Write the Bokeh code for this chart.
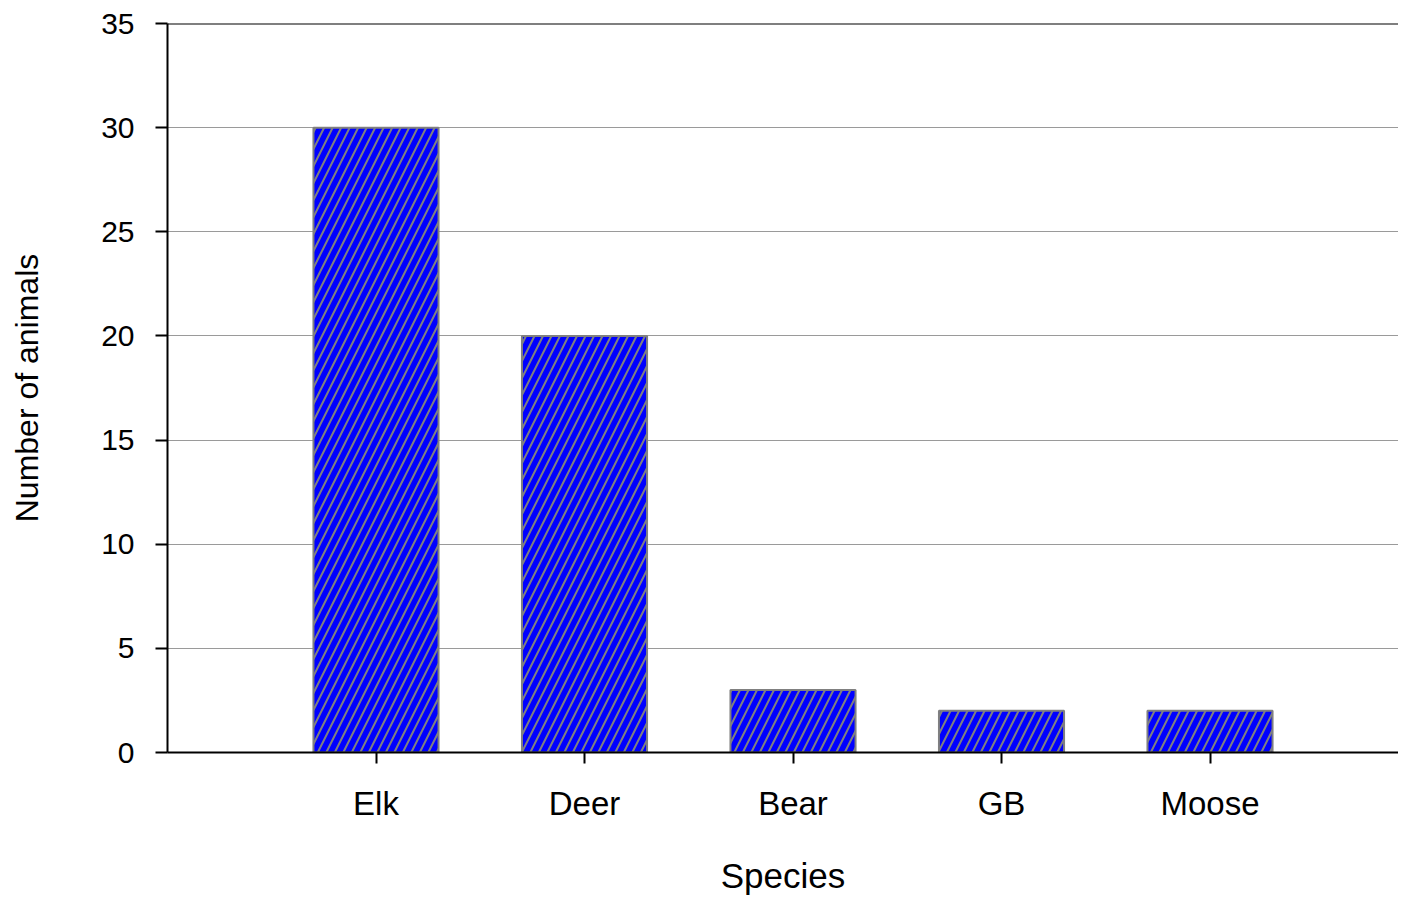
from bokeh.plotting import figure
from bokeh.models import Range1d, FixedTicker, Span, ColumnDataSource
from bokeh.embed import file_html
from bokeh.resources import INLINE

species = ["Elk", "Deer", "Bear", "GB", "Moose"]
counts = [30, 20, 3, 2, 2]
y_ticks = [0, 5, 10, 15, 20, 25, 30, 35]

xpos = [i + 1 for i in range(len(species))]
src = ColumnDataSource(dict(x=xpos, top=counts, name=species))

FONT = "Liberation Sans"

p = figure(width=1398, height=899, output_backend="svg", toolbar_location=None,
           x_range=Range1d(0, 5.904), y_range=Range1d(0, 35),
           min_border_left=167, min_border_right=0, min_border_top=23,
           min_border_bottom=147)
p.outline_line_color = None
p.background_fill_color = "white"
p.border_fill_color = "white"

p.vbar(x="x", top="top", bottom=0, width=0.6, source=src,
       fill_color="#0000FF", line_color="#808080", line_width=2,
       hatch_pattern="/", hatch_color="#808080", hatch_scale=17, hatch_weight=2)

top_line = Span(location=35, dimension="width", line_color="black", line_width=2)
p.add_layout(top_line)

# X axis
p.xaxis.ticker = FixedTicker(ticks=xpos)
p.xaxis.major_label_overrides = {x: n for x, n in zip(xpos, species)}
p.xaxis.minor_tick_line_color = None
p.xaxis.major_tick_in = 0
p.xaxis.major_tick_out = 11
p.xaxis.major_tick_line_width = 2
p.xaxis.axis_line_width = 2
p.xaxis.axis_line_color = "black"
p.xaxis.major_tick_line_color = "black"
p.xaxis.major_label_text_font = FONT
p.xaxis.major_label_text_font_size = "33px"
p.xaxis.major_label_text_color = "black"
p.xaxis.major_label_standoff = 21
p.xaxis.axis_label = "Species"
p.xaxis.axis_label_text_font = FONT
p.xaxis.axis_label_text_font_size = "35px"
p.xaxis.axis_label_text_font_style = "normal"
p.xaxis.axis_label_text_color = "black"
p.xaxis.axis_label_standoff = 31

# Y axis
p.yaxis.ticker = FixedTicker(ticks=y_ticks)
p.yaxis.minor_tick_line_color = None
p.yaxis.major_tick_in = 0
p.yaxis.major_tick_out = 12
p.yaxis.major_tick_line_width = 2
p.yaxis.axis_line_width = 2
p.yaxis.axis_line_color = "black"
p.yaxis.major_tick_line_color = "black"
p.yaxis.major_label_text_font = FONT
p.yaxis.major_label_text_font_size = "30px"
p.yaxis.major_label_text_color = "black"
p.yaxis.major_label_standoff = 21
p.yaxis.axis_label = "Number of animals"
p.yaxis.axis_label_text_font = FONT
p.yaxis.axis_label_text_font_size = "32px"
p.yaxis.axis_label_text_font_style = "normal"
p.yaxis.axis_label_text_color = "black"
p.yaxis.axis_label_standoff = 53

p.xgrid.grid_line_color = None
p.ygrid.grid_line_color = "#9a9a9a"
p.ygrid.grid_line_width = 1

open("out.html", "w").write(file_html(p, INLINE))
